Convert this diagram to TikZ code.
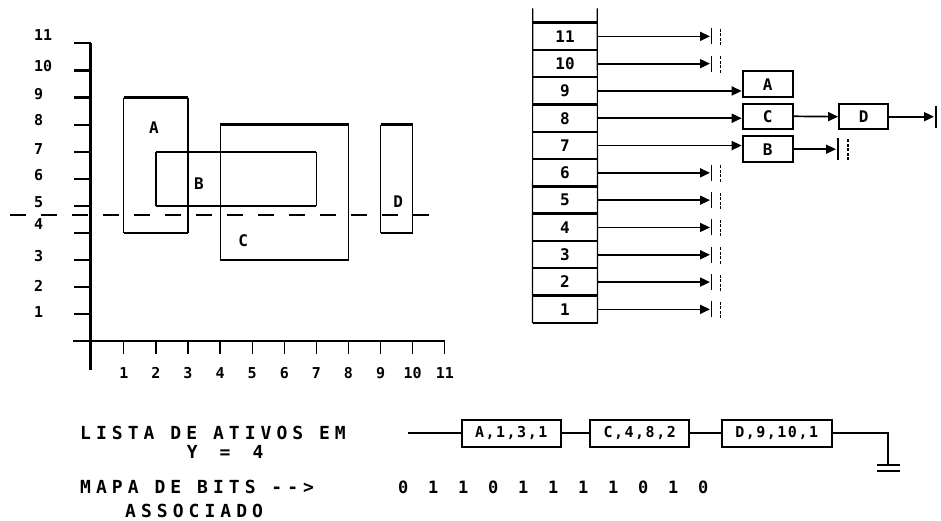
\documentclass[tikz,border=0pt]{standalone}
\usepackage{fontspec}
\newfontfamily\pf{DejaVu Sans Mono}
\newfontfamily\pfw{DejaVu Sans Mono}[LetterSpace=28]
\newfontfamily\pfn{DejaVu Sans Mono}[LetterSpace=10]
\usetikzlibrary{arrows.meta}
\newcommand\prect[4]{%
  \draw[hl] (#1,#2) -- (#3,#2) (#1,#4) -- (#3,#4);
  \draw[vl] (#1,#2) -- (#1,#4) (#3,#2) -- (#3,#4);}
\begin{document}
\begin{tikzpicture}[x=1pt,y=-1pt,
  hl/.style={line width=2.4pt},
  vl/.style={line width=1.2pt},
  axis/.style={line width=2.2pt},
  conn/.style={line width=1.7pt},
  arr/.style={conn,-{Triangle[length=10pt,width=9pt]}},
  bar/.style={line width=1.8pt},
  bar2/.style={line width=1.4pt,dash pattern=on 3pt off 1.5pt},
  axl/.style={font=\pf\bfseries\fontsize{15}{15}\selectfont,inner sep=0pt},
  rl/.style={font=\pf\bfseries\fontsize{16}{16}\selectfont,inner sep=0pt},
  bucket/.style={minimum width=64.6pt,minimum height=27.3pt,inner sep=0pt,
    font=\pf\bfseries\fontsize{16}{16}\selectfont},
  rec/.style={draw,line width=2pt,inner sep=0pt,minimum width=50pt,minimum height=25.5pt,
    font=\pf\bfseries\fontsize{16}{16}\selectfont},
  lrec/.style={draw,line width=2pt,inner sep=0pt,minimum height=26.7pt,
    font=\pfn\bfseries\fontsize{15}{15}\selectfont},
  txt/.style={font=\pfw\bfseries\fontsize{18}{18}\selectfont,inner sep=0pt,anchor=west},
  bit/.style={font=\pf\bfseries\fontsize{17}{17}\selectfont,inner sep=0pt}]
\useasboundingbox (0,0) rectangle (941,520);

% ---------- left chart ----------
\coordinate (ytop) at (90.5,43.3);
\coordinate (ybot) at (90.5,370);
\coordinate (xlft) at (73,340.7);
\coordinate (xrgt) at (445,340.7);
\draw[axis] (ytop) -- (ybot);
\draw[axis] (xlft) -- (xrgt);
\foreach \n/\d in {1/2.6,2/1.7,3/4,4/9.3,5/4,6/3.7,7/2.7,8/4.3,9/3.7,10/4,11/8.3}{
  \draw[axis] (74,{314.3-27.1*(\n-1)}) -- (90.5,{314.3-27.1*(\n-1)});
  \node[axl,anchor=west] (yl\n) at (34,{314.3-27.1*(\n-1)-\d}) {\n};
  \draw[line width=1.3pt] ({91.7+32.1*\n},340.7) -- ({91.7+32.1*\n},354);
  \node[axl] (xl\n) at ({91.7+32.1*\n},373) {\n};
}
% rectangles
\prect{123.8}{97.5}{188}{233}
\prect{155.9}{151.7}{316.4}{205.9}
\prect{220.1}{124.6}{348.5}{260.1}
\prect{380.6}{124.6}{412.7}{233}
\node[rl] (la) at (154,127.3) {A};
\node[rl] (lb) at (199,183.3) {B};
\node[rl] (lc) at (243.3,240.7) {C};
\node[rl] (ld) at (398.3,201.7) {D};
% scan line
\coordinate (dl) at (10,215);
\coordinate (dr) at (442,215);
\draw[line width=2.4pt,dash pattern=on 16pt off 15pt] (dl) -- (dr);

% ---------- bucket list ----------
\foreach \k in {1,...,11}{
  \node[bucket] (r\k) at (565,{22.7+(11.5-\k)*27.3}) {\k};
  \draw[hl] (r\k.north west) -- (r\k.north east);
}
\draw[hl] (r1.south west) -- (r1.south east);
\coordinate (cl) at (532.7,8.3);
\coordinate (cr) at (597.3,8.3);
\draw[vl] (cl) -- (r1.south west);
\draw[vl] (cr) -- (r1.south east);

\coordinate (term) at (710,0);
\foreach \k in {11,10,6,5,4,3,2,1}{
  \draw[arr] (r\k.east) -- (r\k.east -| term) coordinate (t\k);
  \draw[bar] ([xshift=1.5pt,yshift=-8pt]t\k) -- ([xshift=1.5pt,yshift=8pt]t\k);
  \draw[bar2] ([xshift=10.5pt,yshift=-9pt]t\k) -- ([xshift=10.5pt,yshift=9pt]t\k);
}
\node[rec] (A) at (767.7,84.2) {A};
\node[rec] (C) at (767.7,116.3) {C};
\node[rec] (B) at (767.7,149.2) {B};
\node[rec,minimum width=49.3pt] (D) at (863.7,116.7) {D};
\draw[arr] (r9.east) -- (r9.east -| A.west);
\draw[arr] (r8.east) -- (r8.east -| C.west);
\draw[arr] (r7.east) -- (r7.east -| B.west);
\draw[arr] (C.east) -- (D.west);
\coordinate (dterm) at (934,0);
\draw[arr] (D.east) -- (D.east -| dterm) coordinate (td);
\draw[bar] ([xshift=2pt,yshift=-11pt]td) -- ([xshift=2pt,yshift=11pt]td);
\coordinate (bterm) at (836,0);
\draw[arr] (B.east) -- (B.east -| bterm) coordinate (tb);
\draw[bar] ([xshift=2pt,yshift=-11pt]tb) -- ([xshift=2pt,yshift=11pt]tb);
\draw[bar2] ([xshift=12pt,yshift=-11pt]tb) -- ([xshift=12pt,yshift=11pt]tb);

% ---------- bottom ----------
\node[txt] (lista) at (80,433.3) {LISTA DE ATIVOS EM};
\node[txt] (yeq) at (186.7,451.7) {Y\hspace{22pt}=\hspace{22pt}4};
\node[txt] (mapa) at (80,486.7) {MAPA DE BITS -{}-{}>};
\node[txt] (assoc) at (125,511) {ASSOCIADO};
\foreach \b [count=\i from 0] in {0,1,1,0,1,1,1,1,0,1,0}
  \node[bit] (b\i) at ({403.3+30*\i},487.7) {\b};

\node[lrec,minimum width=99pt] (L1) at (511.2,433.3) {A,1,3,1};
\node[lrec,minimum width=99.3pt] (L2) at (639.7,433.3) {C,4,8,2};
\node[lrec,minimum width=110pt] (L3) at (776.7,433.3) {D,9,10,1};
\coordinate (ls) at (408.3,433.3);
\coordinate (gc) at (888.3,433.3);
\coordinate (gnd) at (888.3,465);
\draw[conn] (ls) -- (L1.west);
\draw[conn] (L1.east) -- (L2.west);
\draw[conn] (L2.east) -- (L3.west);
\draw[conn] (L3.east) -- (gc) -- (gnd);
\draw[hl] ([xshift=-11.6pt]gnd) -- ([xshift=11.7pt]gnd);
\draw[hl] ([xshift=-11.6pt,yshift=-6pt]gnd) -- ([xshift=11.7pt,yshift=-6pt]gnd);
\end{tikzpicture}
\end{document}
